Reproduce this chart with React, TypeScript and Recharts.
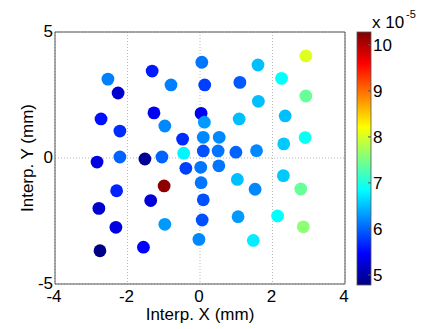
import { CartesianGrid, ReferenceArea, Scatter, ScatterChart, XAxis, YAxis } from "recharts";

// sample positions (mm) and measured value (x 10^-5)
const xPos = [
  -2.54, -2.73, -2.84, -2.79, -2.76,
  -2.26, -2.21, -2.21, -2.30, -2.32,
  -1.32, -1.27, -1.52, -1.36, -1.56,
  -0.80, -0.97, -1.05, -0.99, -0.97,
  -0.48, -0.45, -0.39,
  0.05, 0.13, 0.03, 0.12, 0.09, 0.09, 0.02, 0.03, 0.09, 0.06, -0.03,
  0.53, 0.50, 0.52,
  1.10, 1.08, 0.99, 1.03, 1.05,
  1.60, 1.61, 1.56, 1.52, 1.47,
  2.25, 2.35, 2.31, 2.30, 2.14,
  2.92, 2.92, 2.90, 2.78, 2.85,
];
const yPos = [
  3.13, 1.55, -0.16, -2.0, -3.68,
  2.58, 1.07, 0.04, -1.30, -2.75,
  3.45, 1.79, -0.04, -1.69, -3.54,
  2.90, 1.27, 0.04, -1.11, -2.63,
  0.75, 0.19, -0.41,
  3.80, 2.90, 1.77, 1.42, 0.82, 0.28, -0.37, -0.98, -1.66, -2.46, -3.23,
  0.82, 0.28, -0.31,
  3.0, 1.55, 0.23, -0.85, -2.33,
  3.69, 2.25, 0.29, -1.24, -3.27,
  3.16, 1.67, 0.56, -0.70, -2.30,
  4.05, 2.46, 0.81, -1.23, -2.73,
];
const values = [
  6.15, 5.55, 5.3, 5.2, 4.82,
  5.2, 5.7, 6.0, 5.65, 5.3,
  5.6, 5.4, 4.9, 5.25, 5.45,
  6.15, 6.2, 6.0, 10.2, 6.3,
  5.7, 6.8, 5.8,
  6.1, 5.8, 5.4, 6.3, 6.2, 5.9, 6.1, 6.1, 5.9, 5.9, 6.2,
  6.2, 6.1, 6.1,
  5.95, 6.5, 6.0, 6.5, 6.3,
  6.5, 6.5, 6.2, 6.2, 6.75,
  6.85, 6.5, 6.55, 6.55, 6.85,
  8.05, 7.4, 6.9, 7.4, 7.6,
];

const xTicks = [-4, -2, 0, 2, 4];
const yTicks = [-5, 0, 5];
const cbTicks = [5, 6, 7, 8, 9, 10];
const CMIN = 4.78;
const CMAX = 10.28;

const points = xPos.map((x, i) => ({ x, y: yPos[i], v: values[i] }));

const jetRgb = (t: number) => {
  const c = (k: number) => Math.round(255 * Math.max(0, Math.min(1, 1.5 - Math.abs(4 * t - k))));
  return `rgb(${c(3)},${c(2)},${c(1)})`;
};
const jet = (v: number) => jetRgb((v - CMIN) / (CMAX - CMIN));

const font = "'Liberation Sans', Arial, sans-serif";

const Dot = (props: any) => {
  const { cx, cy, payload } = props;
  return <circle cx={cx} cy={cy} r={6.4} fill={jet(payload.v)} />;
};

const XTick = ({ x, payload }: any) => (
  <text x={x - 1} y={302} textAnchor="middle" fontSize={17} fontFamily={font} fill="#000">
    {payload.value}
  </text>
);

const YTick = ({ y, payload }: any) => (
  <text x={53} y={y + 5} textAnchor="end" fontSize={17} fontFamily={font} fill="#000">
    {payload.value}
  </text>
);

// colorbar geometry
const cbLeft = 357;
const cbWidth = 14;
const cbTop = 32;
const cbBottom = 285;
const cbY = (v: number) => cbBottom - ((v - CMIN) / (CMAX - CMIN)) * (cbBottom - cbTop);

const stops = [0, 0.125, 0.375, 0.625, 0.875, 1];

export default function App() {
  return (
    <div style={{ position: "absolute", left: 0, top: 0, width: 438, height: 329, background: "#fff" }}>
      <ScatterChart width={438} height={329} margin={{ top: 32, right: 93, bottom: 20, left: 15 }}>
        <CartesianGrid stroke="#b8b8b8" strokeDasharray="1 2" />
        <XAxis
          dataKey="x"
          type="number"
          domain={[-4, 4]}
          ticks={xTicks}
          height={25}
          axisLine={false}
          tickLine={false}
          tick={<XTick />}
        />
        <YAxis
          dataKey="y"
          type="number"
          domain={[-5, 5]}
          ticks={yTicks}
          width={40}
          axisLine={false}
          tickLine={false}
          tick={<YTick />}
        />
        <ReferenceArea x1={-4} x2={4} y1={-5} y2={5} fill="none" stroke="#555" strokeWidth={1} />
        <Scatter data={points} shape={<Dot />} isAnimationActive={false} />
      </ScatterChart>
      <svg
        width={438}
        height={329}
        style={{ position: "absolute", left: 0, top: 0, pointerEvents: "none" }}
      >
        <defs>
          <linearGradient id="jet" x1="0" y1="1" x2="0" y2="0">
            {stops.map((s) => (
              <stop key={s} offset={s} stopColor={jetRgb(s)} />
            ))}
          </linearGradient>
        </defs>
        <text x={200} y={320} textAnchor="middle" fontSize={17} fontFamily={font}>
          Interp. X (mm)
        </text>
        <text
          x={0}
          y={0}
          transform="translate(33,158) rotate(-90)"
          textAnchor="middle"
          fontSize={17}
          fontFamily={font}
        >
          Interp. Y (mm)
        </text>
        <rect x={cbLeft} y={cbTop} width={cbWidth} height={cbBottom - cbTop} fill="url(#jet)" stroke="#555" strokeWidth={0.8} />
        {cbTicks.map((t) => (
          <g key={t}>
            <line x1={cbLeft + cbWidth - 3} x2={cbLeft + cbWidth} y1={cbY(t)} y2={cbY(t)} stroke="#555" />
            <text x={cbLeft + cbWidth + 2} y={cbY(t) + 6.5} fontSize={17} fontFamily={font}>
              {t}
            </text>
          </g>
        ))}
        <text x={372} y={28} fontSize={17} fontFamily={font}>
          x 10
        </text>
        <text x={406} y={18} fontSize={11} fontFamily={font}>
          -5
        </text>
      </svg>
    </div>
  );
}
